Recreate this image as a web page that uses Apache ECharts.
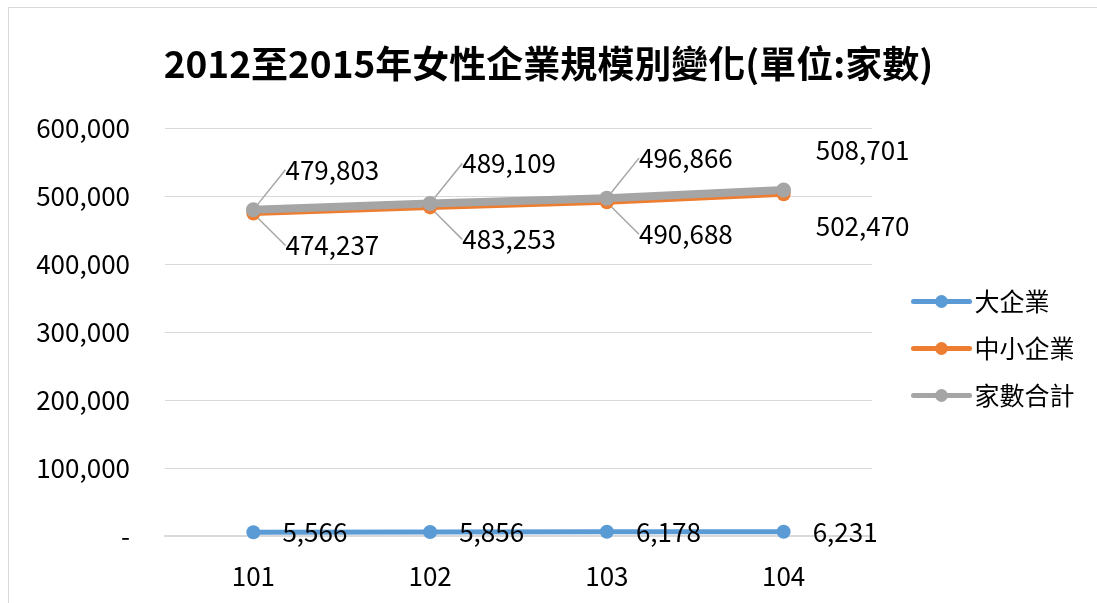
<!DOCTYPE html>
<html>
<head>
<meta charset="utf-8">
<script src="https://cdn.jsdelivr.net/npm/echarts@6/dist/echarts.min.js"></script>
<style>
  html, body { margin: 0; padding: 0; background: #fff; }
  .box { width: 1097px; height: 603px; }
</style>
</head>
<body>
<div class="box"></div>
<script>
const chartDom = document.getElementsByClassName('box')[0];
const myChart = echarts.init(chartDom);
let option;

const years = ['101', '102', '103', '104'];
const seriesNames = ['大企業', '中小企業', '家數合計'];
const bigValues = [5566, 5856, 6178, 6231];
const smeValues = [474237, 483253, 490688, 502470];
const totalValues = [479803, 489109, 496866, 508701];

const fontFamily = '"Noto Sans CJK TC", "Noto Sans", sans-serif';
const fmt = v => v === 0 ? '-' : v.toLocaleString('en-US');

// label offset from the point (px)
function placeLabel(dx, dy) {
    return function (params) {
        const r = params.rect;
        return {
            x: r.x + r.width / 2 + dx,
            y: r.y + r.height / 2 + dy,
            align: 'center',
            verticalAlign: 'middle'
        };
    };
}

function withLeader(values, lastOff) {
    return values.map((v, i) => {
        if (i === values.length - 1 && lastOff) {
            return { value: v, labelLine: { show: false } };
        }
        return v;
    });
}

option = {
    animation: false,
    textStyle: { fontFamily: fontFamily },
    title: {
        text: '2012至2015年女性企業規模別變化(單位:家數)',
        left: 'center',
        top: 40,
        textStyle: { fontSize: 37, fontWeight: 'bold', color: '#000', fontFamily: fontFamily }
    },
    graphic: [{
        type: 'rect',
        shape: { x: 8.5, y: 7.5, width: 1200, height: 700 },
        style: { fill: 'none', stroke: '#d9d9d9', lineWidth: 1 },
        silent: true
    }],
    legend: {
        orient: 'vertical',
        left: 906,
        top: 284,
        itemWidth: 56,
        itemHeight: 16,
        itemGap: 22,
        textStyle: { fontSize: 25, color: '#000', fontFamily: fontFamily },
        data: seriesNames.map(n => ({ name: n, lineStyle: { width: 5, cap: 'round' } }))
    },
    grid: { left: 165, right: 225, top: 128, bottom: 67 },
    xAxis: {
        type: 'category',
        data: years,
        axisLine: { lineStyle: { color: '#d9d9d9', width: 2 } },
        axisTick: { show: false },
        axisLabel: { fontSize: 26, color: '#000', margin: 27 }
    },
    yAxis: {
        type: 'value',
        min: 0,
        max: 600000,
        interval: 100000,
        axisLine: { show: false },
        axisTick: { show: false },
        splitLine: { lineStyle: { color: '#d9d9d9', width: 1 } },
        axisLabel: { fontSize: 26, color: '#000', margin: 35, formatter: fmt }
    },
    series: [
        {
            name: seriesNames[0],
            type: 'line',
            data: bigValues,
            color: '#5b9bd5',
            symbol: 'circle',
            symbolSize: 14,
            lineStyle: { width: 5 },
            label: {
                show: true, position: 'right', distance: 22,
                fontSize: 26, color: '#000', formatter: p => fmt(p.value)
            }
        },
        {
            name: seriesNames[1],
            type: 'line',
            data: withLeader(smeValues, true),
            color: '#ed7d31',
            symbol: 'circle',
            symbolSize: 14,
            lineStyle: { width: 5 },
            label: {
                show: true, fontSize: 26, color: '#000',
                formatter: p => fmt(p.value)
            },
            labelLine: { show: true, lineStyle: { color: '#a6a6a6', width: 1.5 } },
            labelLayout: placeLabel(79, 32)
        },
        {
            name: seriesNames[2],
            type: 'line',
            data: withLeader(totalValues, true),
            color: '#a5a5a5',
            symbol: 'circle',
            symbolSize: 15,
            lineStyle: { width: 8 },
            label: {
                show: true, fontSize: 26, color: '#000',
                formatter: p => fmt(p.value)
            },
            labelLine: { show: true, lineStyle: { color: '#a6a6a6', width: 1.5 } },
            labelLayout: placeLabel(79, -40)
        }
    ]
};

myChart.setOption(option);
</script>
</body>
</html>
